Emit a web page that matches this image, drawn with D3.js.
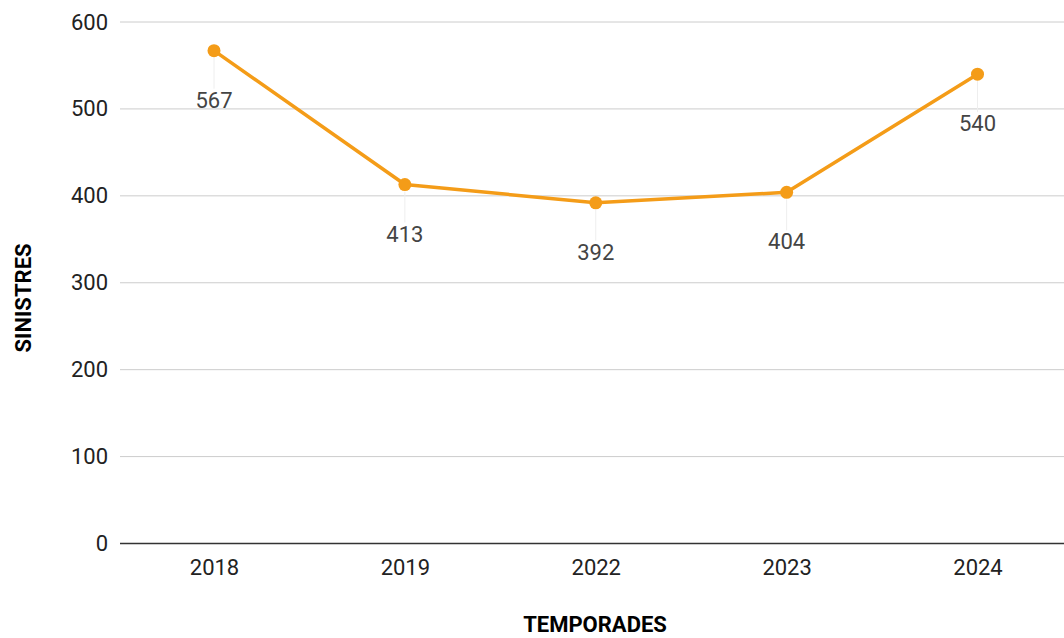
<!DOCTYPE html>
<html>
<head>
<meta charset="utf-8">
<script src="https://cdn.jsdelivr.net/npm/d3@7"></script>
<style>
  html, body { margin: 0; padding: 0; background: #fff; }
  svg { display: block; }
</style>
</head>
<body>
<svg id="chart" width="1064" height="638"></svg>
<script>
// Siniestres per temporada
const seasons = ["2018", "2019", "2022", "2023", "2024"];
const claims = [567, 413, 392, 404, 540];
const yTicks = [0, 100, 200, 300, 400, 500, 600];

const W = 1064, H = 638;
const plot = { left: 120, right: 1064, top: 22, bottom: 543.5 };
const FONT = "Roboto, sans-serif";
const ORANGE = "#f49c18";

const svg = d3.select("#chart");

const x = d3.scalePoint()
  .domain(seasons)
  .range([214, 977.5]);

const y = d3.scaleLinear()
  .domain([0, 600])
  .range([plot.bottom, plot.top]);

// Horizontal gridlines
svg.append("g")
  .selectAll("line")
  .data(yTicks.filter(d => d !== 0))
  .join("line")
  .attr("x1", plot.left)
  .attr("x2", plot.right)
  .attr("y1", d => y(d))
  .attr("y2", d => y(d))
  .attr("stroke", "#cccccc")
  .attr("stroke-width", 1);

// Y axis labels
const yAxis = d3.axisLeft(y).tickValues(yTicks).tickSize(0).tickPadding(12);
svg.append("g")
  .attr("transform", `translate(${plot.left},0)`)
  .call(yAxis)
  .call(g => g.select(".domain").remove())
  .call(g => g.selectAll("text")
    .attr("font-family", FONT)
    .attr("font-size", 22)
    .attr("fill", "#222"));

// Baseline
svg.append("line")
  .attr("x1", plot.left)
  .attr("x2", plot.right)
  .attr("y1", y(0))
  .attr("y2", y(0))
  .attr("stroke", "#333")
  .attr("stroke-width", 1.5);

// X axis labels
const xAxis = d3.axisBottom(x).tickSize(0).tickPadding(16);
svg.append("g")
  .attr("transform", `translate(0,${y(0)})`)
  .call(xAxis)
  .call(g => g.select(".domain").remove())
  .call(g => g.selectAll("text")
    .attr("font-family", FONT)
    .attr("font-size", 22)
    .attr("fill", "#222"));

const data = seasons.map((s, i) => ({ season: s, value: claims[i] }));

// Faint leader lines from points to their labels
svg.append("g")
  .selectAll("line")
  .data(data)
  .join("line")
  .attr("x1", d => x(d.season))
  .attr("x2", d => x(d.season))
  .attr("y1", d => y(d.value) + 7)
  .attr("y2", d => y(d.value) + 38)
  .attr("stroke", "#eeeeee")
  .attr("stroke-width", 1);

// Line
const line = d3.line()
  .x(d => x(d.season))
  .y(d => y(d.value));

svg.append("path")
  .datum(data)
  .attr("d", line)
  .attr("fill", "none")
  .attr("stroke", ORANGE)
  .attr("stroke-width", 3.5)
  .attr("stroke-linejoin", "round");

// Points
svg.append("g")
  .selectAll("circle")
  .data(data)
  .join("circle")
  .attr("cx", d => x(d.season))
  .attr("cy", d => y(d.value))
  .attr("r", 6.5)
  .attr("fill", ORANGE);

// Value labels
svg.append("g")
  .selectAll("text")
  .data(data)
  .join("text")
  .attr("x", d => x(d.season))
  .attr("y", d => y(d.value) + 57)
  .attr("text-anchor", "middle")
  .attr("font-family", FONT)
  .attr("font-size", 22)
  .attr("fill", "#444")
  .text(d => d.value);

// Axis titles
svg.append("text")
  .attr("x", 595)
  .attr("y", 632)
  .attr("text-anchor", "middle")
  .attr("font-family", FONT)
  .attr("font-weight", "bold")
  .attr("font-size", 22)
  .attr("fill", "#000")
  .text("TEMPORADES");

svg.append("text")
  .attr("transform", "translate(31,298) rotate(-90)")
  .attr("text-anchor", "middle")
  .attr("font-family", FONT)
  .attr("font-weight", "bold")
  .attr("font-size", 22)
  .attr("fill", "#000")
  .text("SINISTRES");
</script>
</body>
</html>
